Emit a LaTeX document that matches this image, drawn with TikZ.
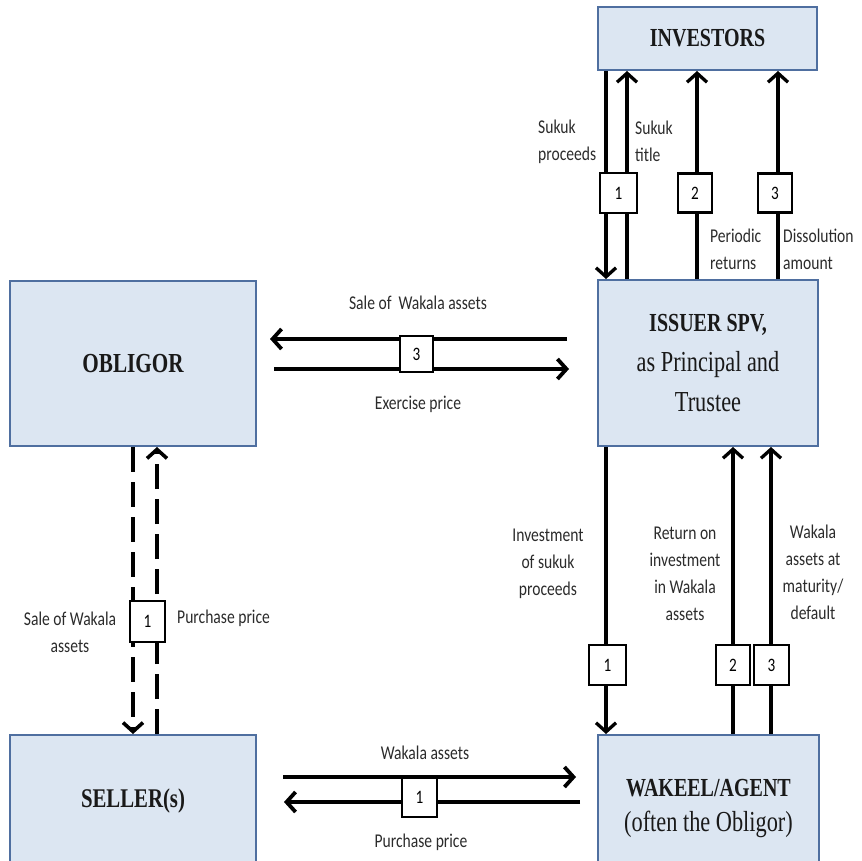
\documentclass[tikz,border=0pt]{standalone}
\usepackage{fontspec}
\setmainfont{Carlito}[FakeStretch=0.8]
\newfontfamily\titlefont{Liberation Serif}[FakeStretch=0.77]
\usetikzlibrary{arrows.meta}
\definecolor{boxfill}{HTML}{DCE6F2}
\definecolor{boxline}{HTML}{4F6FA0}
\definecolor{lbl}{HTML}{2B2B2B}
\begin{document}
\begin{tikzpicture}[x=1pt,y=-1pt,
 party/.style={draw=boxline, fill=boxfill, line width=2pt, inner sep=0pt, align=center, text=black!90},
 numbox/.style={draw=black, fill=white, line width=2.2pt, minimum width=34pt, minimum height=39pt, inner sep=0pt, font=\fontsize{19}{22}\selectfont},
 lab/.style={text=lbl, font=\fontsize{19.5}{27}\selectfont, inner sep=0pt, align=center},
 arr/.style={line width=3.3pt, -{Straight Barb[length=9pt,width=20pt]}},
 harr/.style={arr, line width=3.8pt},
 darr/.style={arr, line width=3.6pt, dash pattern=on 25pt off 10pt}
]
\useasboundingbox (0,0) rectangle (862,861);

% parties
\node[party, minimum width=219pt, minimum height=63pt, font=\titlefont\bfseries\fontsize{26}{30}\selectfont] (inv) at (707.5,38.5) {INVESTORS};
\node[party, minimum width=220pt, minimum height=166pt, font=\titlefont\fontsize{29}{40}\selectfont] (iss) at (708,363) {{\bfseries\fontsize{26}{40}\selectfont ISSUER SPV,}\\as Principal and\\Trustee};
\node[party, minimum width=246pt, minimum height=165pt, font=\titlefont\bfseries\fontsize{27.5}{30}\selectfont] (obl) at (133,363.5) {OBLIGOR};
\node[party, minimum width=246pt, minimum height=132pt, font=\titlefont\bfseries\fontsize{27}{30}\selectfont] (sel) at (133,801) {SELLER(s)};
\node[party, minimum width=221pt, minimum height=147pt, font=\titlefont\fontsize{29}{35}\selectfont] (wak) at (708.5,808.5) {{\bfseries\fontsize{26}{35}\selectfont WAKEEL/AGENT}\\(often the Obligor)};

% investors <-> issuer
\draw[arr] (606,0 |- inv.south) -- (606,0 |- iss.north);
\draw[arr] (627,0 |- iss.north) -- (627,0 |- inv.south);
\draw[arr] (697,0 |- iss.north) -- (697,0 |- inv.south);
\draw[arr] (778,0 |- iss.north) -- (778,0 |- inv.south);
\node[numbox, minimum width=37pt, minimum height=40pt] (ni1) at (618.5,193) {1};
\node[numbox] (ni2) at (695,193) {2};
\node[numbox] (ni3) at (775,193) {3};
\node[lab, align=left, anchor=west] (lsp) at (538,141.5) {Sukuk\\proceeds};
\node[lab, align=left, anchor=west] (lst) at (635,141.5) {Sukuk\\title};
\node[lab, align=left, anchor=west] (lpr) at (710,249) {Periodic\\returns};
\node[lab, align=left, anchor=west] (lda) at (783,249) {Dissolution\\amount};

% obligor <-> issuer
\draw[harr, shorten <=30pt, shorten >=13pt] (iss.west |- 0,339) -- (obl.east |- 0,339);
\draw[harr, shorten <=17pt, shorten >=28pt] (obl.east |- 0,369) -- (iss.west |- 0,369);
\node[numbox, minimum width=33pt, minimum height=36pt] (no3) at (416.5,354) {3};
\node[lab] (lsw) at (418,303) {Sale of\ \ Wakala assets};
\node[lab] (lep) at (418,404) {Exercise price};

% obligor <-> seller
\draw[darr] (133,0 |- obl.south) -- (133,0 |- sel.north);
\draw[darr] (157,0 |- sel.north) -- (157,0 |- obl.south);
\node[numbox, minimum width=35pt, minimum height=41pt] (ns1) at (147.5,621.5) {1};
\node[lab] (lsa) at (70,632) {Sale of Wakala\\assets};
\node[lab, anchor=west] (lpp) at (177,618) {Purchase price};

% issuer <-> wakeel
\draw[arr] (606,0 |- iss.south) -- (606,0 |- wak.north);
\draw[arr] (733,0 |- wak.north) -- (733,0 |- iss.south);
\draw[arr] (771,0 |- wak.north) -- (771,0 |- iss.south);
\node[numbox, minimum width=37pt, minimum height=40pt] (nw1) at (607.5,665) {1};
\node[numbox, minimum height=40pt] (nw2) at (733,665) {2};
\node[numbox, minimum width=35pt, minimum height=40pt] (nw3) at (771.5,665) {3};
\node[lab] (lis) at (548,563.5) {Investment\\of sukuk\\proceeds};
\node[lab] (lri) at (685,574) {Return on\\investment\\in Wakala\\assets};
\node[lab] (lwm) at (813,572) {Wakala\\assets at\\maturity/\\default};

% seller <-> wakeel
\draw[harr, shorten <=26pt, shorten >=21pt] (sel.east |- 0,777) -- (wak.west |- 0,777);
\draw[harr, shorten <=17pt, shorten >=27pt] (wak.west |- 0,802) -- (sel.east |- 0,802);
\node[numbox, minimum width=35pt, minimum height=39pt] (nb1) at (419.5,797.5) {1};
\node[lab] (lwa) at (425,753) {Wakala assets};
\node[lab] (lbp) at (421,842) {Purchase price};
\end{tikzpicture}
\end{document}
